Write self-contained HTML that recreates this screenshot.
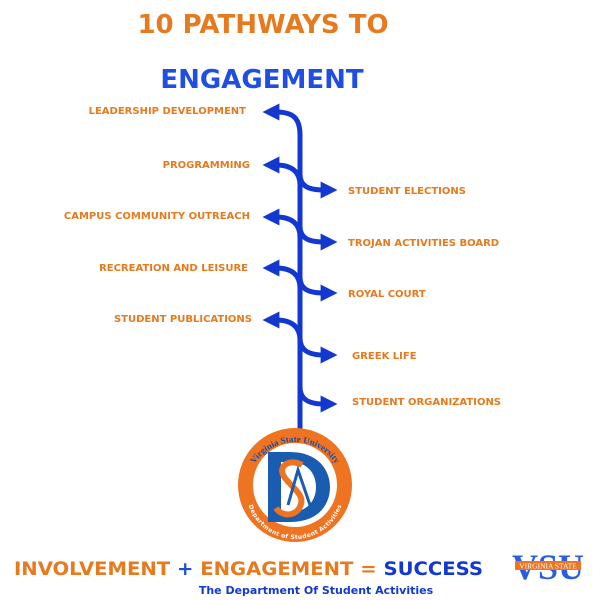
<!DOCTYPE html>
<html><head><meta charset="utf-8"><style>
html,body{margin:0;padding:0;background:#fff;width:600px;height:600px;overflow:hidden}
svg{display:block}
text{font-family:"DejaVu Sans","Liberation Sans",sans-serif;font-weight:bold}
</style></head><body>
<svg width="600" height="600" viewBox="0 0 600 600" xmlns="http://www.w3.org/2000/svg">
<defs>
<marker id="ah" viewBox="0 0 10 10" refX="2" refY="5" markerWidth="3.4" markerHeight="3.4" orient="auto" markerUnits="strokeWidth">
<path d="M0,0 L10,5 L0,10 Z" fill="#1238d0"/></marker>
</defs>
<text x="263" y="33" font-size="26" fill="#e57a1e" text-anchor="middle">10 PATHWAYS TO</text>
<text x="262" y="88" font-size="26" fill="#1f4ee0" text-anchor="middle">ENGAGEMENT</text>

<g stroke="#1238d0" stroke-width="5" fill="none" marker-end="url(#ah)">
<path d="M300,430 L300,135 C300,118 293,112 276,112"/>
<path d="M300,185 C300,172 292,165 276,165"/>
<path d="M300,237 C300,224 292,217 276,217"/>
<path d="M300,288 C300,275 292,268 276,268"/>
<path d="M300,340 C300,327 292,320 276,320"/>
<path d="M300,174 C300,186 308,190 324,190"/>
<path d="M300,226 C300,238 308,242 324,242"/>
<path d="M300,277 C300,289 308,293 324,293"/>
<path d="M300,338 C300,350 308,355 324,355"/>
<path d="M300,387 C300,399 308,404 324,404"/>
</g>

<g font-size="10" fill="#e57a1e">
<text x="246" y="114" text-anchor="end">LEADERSHIP DEVELOPMENT</text>
<text x="250" y="168" text-anchor="end">PROGRAMMING</text>
<text x="250" y="219" text-anchor="end">CAMPUS COMMUNITY OUTREACH</text>
<text x="248" y="271" text-anchor="end">RECREATION AND LEISURE</text>
<text x="252" y="322" text-anchor="end">STUDENT PUBLICATIONS</text>
<text x="348" y="194">STUDENT ELECTIONS</text>
<text x="348" y="246">TROJAN ACTIVITIES BOARD</text>
<text x="348" y="297">ROYAL COURT</text>
<text x="352" y="359">GREEK LIFE</text>
<text x="352" y="405">STUDENT ORGANIZATIONS</text>
</g>

<circle cx="295" cy="485" r="57" fill="#ee7422"/>
<circle cx="295" cy="485" r="42" fill="#fff"/>
<path id="arcT" d="M247,490 A48,48 0 0 1 343,490" fill="none"/>
<path id="arcB" d="M250,490 A45,45 0 0 0 340,490" fill="none"/>
<text font-size="9" fill="#1a4da8" style="font-family:'Liberation Serif',serif"><textPath href="#arcT" startOffset="50%" text-anchor="middle">Virginia State University</textPath></text>
<text font-size="6" fill="#fff"><textPath href="#arcB" startOffset="50%" text-anchor="middle" dominant-baseline="hanging">Department of Student Activities</textPath></text>
<path d="M268,452 L290,452 C318,452 330,470 330,487 C330,505 318,522 290,522 L268,522 Z M281,462 L281,512 L290,512 C308,512 316,500 316,487 C316,474 308,462 290,462 Z" fill="#1a5cb0" fill-rule="evenodd"/>
<path d="M302,465 C290,458 276,466 285,478 C294,490 308,496 298,510 C290,518 280,514 276,508" stroke="#ee7422" stroke-width="6" fill="none"/>
<path d="M288,505 L298,470 L310,505" stroke="#1a5cb0" stroke-width="3" fill="none"/>

<text x="14" y="575" font-size="19" textLength="469" lengthAdjust="spacingAndGlyphs" fill="#e57a1e">INVOLVEMENT <tspan fill="#1f4ee0">+</tspan> ENGAGEMENT = <tspan fill="#1238d0">SUCCESS</tspan></text>
<text x="316" y="594" font-size="11" fill="#1238d0" text-anchor="middle">The Department Of Student Activities</text>

<text x="548" y="579" font-size="36" fill="#2a5ee0" text-anchor="middle" style="font-family:'Liberation Serif',serif;font-weight:bold">VSU</text>
<rect x="515" y="561" width="66" height="9" fill="#ee7422"/>
<text x="548" y="568.5" font-size="7.5" fill="#fff" text-anchor="middle" style="font-family:'Liberation Serif',serif;font-weight:normal">VIRGINIA STATE</text>
</svg>
</body></html>
